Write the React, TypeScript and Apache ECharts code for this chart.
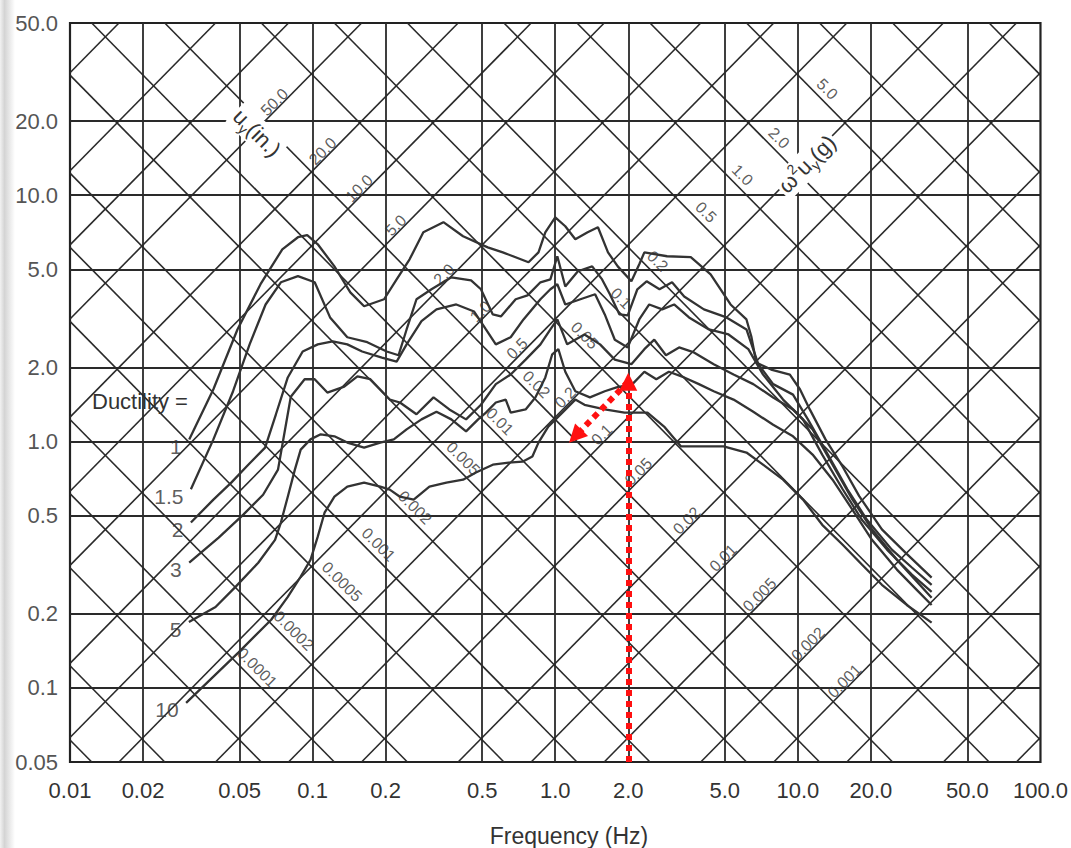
import React, { useEffect, useRef } from "react";
import * as echarts from "echarts";

// ---------- axes ----------
const X_MIN = 0.01;
const X_MAX = 100;
const Y_MIN = 0.05;
const Y_MAX = 50;
const X_TICKS = [0.01, 0.02, 0.05, 0.1, 0.2, 0.5, 1, 2, 5, 10, 20, 50, 100];
const X_TICK_LABELS = ["0.01", "0.02", "0.05", "0.1", "0.2", "0.5", "1.0", "2.0", "5.0", "10.0", "20.0", "50.0", "100.0"];
const Y_TICKS = [0.05, 0.1, 0.2, 0.5, 1, 2, 5, 10, 20, 50];
const Y_TICK_LABELS = ["0.05", "0.1", "0.2", "0.5", "1.0", "2.0", "5.0", "10.0", "20.0", "50.0"];

// ---------- tripartite diagonals ----------
const U_LINES = [0.0001, 0.0002, 0.0005, 0.001, 0.002, 0.005, 0.01, 0.02, 0.05, 0.1, 0.2, 0.5, 1, 2, 5, 10, 20, 50, 100, 200, 500];
const A_LINES = [0.00001, 0.00002, 0.00005, 0.0001, 0.0002, 0.0005, 0.001, 0.002, 0.005, 0.01, 0.02, 0.05, 0.1, 0.2, 0.5, 1, 2, 5, 10, 20, 50];
const U_LABEL_VALUES = [50, 20, 10, 5, 2, 1, 0.5, 0.2, 0.1, 0.05, 0.02, 0.01, 0.005, 0.002, 0.001];
const U_LABELS = ["50.0", "20.0", "10.0", "5.0", "2.0", "1.0", "0.5", "0.2", "0.1", "0.05", "0.02", "0.01", "0.005", "0.002", "0.001"];
const A_LABEL_VALUES = [5, 2, 1, 0.5, 0.2, 0.1, 0.05, 0.02, 0.01, 0.005, 0.002, 0.001, 0.0005, 0.0002, 0.0001];
const A_LABELS = ["5.0", "2.0", "1.0", "0.5", "0.2", "0.1", "0.05", "0.02", "0.01", "0.005", "0.002", "0.001", "0.0005", "0.0002", "0.0001"];
const G_IN = 386.1;

// ---------- ductility spectra (frequency Hz, pseudo-velocity) ----------
const DUCTILITY = ["1", "1.5", "2", "3", "5", "10"];

const MU1_F = [0.031, 0.039, 0.049, 0.061, 0.075, 0.087, 0.095, 0.105, 0.123, 0.143, 0.163, 0.197, 0.222, 0.251, 0.286, 0.346, 0.417, 0.527, 0.608, 0.776, 0.853, 0.91, 1.0, 1.1, 1.21, 1.36, 1.5, 1.65, 1.81, 2.06, 2.22, 2.33, 2.89, 3.62, 4.37, 5.28, 6.14, 6.43, 6.74, 7.76, 9.27, 10.2, 11.2, 13.0, 15.3, 17.9, 22.2, 28.1, 35.6];
const MU1_V = [1.02, 1.63, 2.85, 4.35, 6.03, 6.75, 6.88, 6.32, 5.14, 4.03, 3.54, 3.78, 4.55, 5.49, 7.07, 7.77, 6.81, 6.14, 5.86, 5.34, 5.86, 7.07, 8.13, 7.48, 6.62, 7.07, 7.41, 5.86, 5.14, 4.47, 5.24, 5.86, 5.65, 5.6, 4.77, 3.6, 3.13, 2.67, 2.09, 1.96, 1.87, 1.63, 1.35, 1.02, 0.79, 0.6, 0.44, 0.35, 0.28];

const MU15_F = [0.0315, 0.039, 0.047, 0.055, 0.064, 0.074, 0.087, 0.102, 0.118, 0.139, 0.168, 0.202, 0.226, 0.244, 0.268, 0.309, 0.373, 0.45, 0.494, 0.553, 0.597, 0.687, 0.769, 0.869, 0.955, 1.02, 1.1, 1.24, 1.42, 1.56, 1.68, 1.84, 1.99, 2.18, 2.38, 2.69, 3.03, 3.4, 4.1, 5.08, 6.14, 6.87, 7.91, 9.55, 11.0, 13.3, 16.0, 19.3, 24.4, 29.5, 35.6];
const MU15_V = [0.64, 1.02, 1.6, 2.48, 3.6, 4.43, 4.69, 4.43, 3.19, 2.65, 2.53, 2.32, 2.24, 2.85, 3.78, 4.15, 4.64, 4.51, 4.15, 3.28, 3.22, 3.78, 3.92, 4.43, 4.55, 5.65, 4.26, 4.91, 5.14, 4.55, 3.96, 3.28, 3.25, 4.15, 4.47, 4.15, 4.43, 3.88, 3.44, 3.19, 2.85, 2.06, 1.71, 1.55, 1.23, 0.885, 0.64, 0.48, 0.364, 0.308, 0.262];

const MU2_F = [0.0315, 0.039, 0.0462, 0.0543, 0.0637, 0.0706, 0.079, 0.091, 0.105, 0.121, 0.139, 0.16, 0.193, 0.222, 0.244, 0.281, 0.324, 0.391, 0.463, 0.518, 0.569, 0.655, 0.74, 0.869, 0.955, 1.02, 1.1, 1.27, 1.46, 1.6, 1.76, 1.99, 2.22, 2.44, 2.76, 3.09, 3.56, 4.3, 5.18, 6.25, 7.19, 8.69, 10.5, 12.6, 15.3, 18.4, 23.3, 29.5, 35.6];
const MU2_V = [0.469, 0.581, 0.681, 0.805, 0.944, 1.29, 1.82, 2.32, 2.48, 2.55, 2.48, 2.32, 2.19, 2.11, 2.48, 3.08, 3.44, 3.6, 3.37, 2.85, 2.48, 2.65, 3.13, 3.78, 4.15, 4.35, 3.6, 3.78, 3.96, 3.28, 2.59, 2.41, 3.13, 3.6, 3.44, 3.6, 3.19, 2.85, 2.72, 2.37, 1.87, 1.48, 1.23, 0.885, 0.64, 0.48, 0.364, 0.288, 0.245];

const MU3_F = [0.031, 0.041, 0.0518, 0.0625, 0.072, 0.0813, 0.0927, 0.102, 0.115, 0.135, 0.153, 0.173, 0.208, 0.229, 0.268, 0.315, 0.366, 0.429, 0.494, 0.569, 0.655, 0.755, 0.869, 0.955, 1.02, 1.12, 1.32, 1.53, 1.76, 2.06, 2.33, 2.56, 2.86, 3.24, 3.73, 4.5, 5.43, 6.55, 7.91, 9.55, 11.5, 13.9, 16.8, 20.2, 25.6, 30.9, 35.6];
const MU3_V = [0.322, 0.407, 0.505, 0.608, 0.769, 1.52, 1.79, 1.79, 1.58, 1.67, 1.84, 1.79, 1.48, 1.44, 1.29, 1.51, 1.35, 1.23, 1.41, 1.71, 1.87, 2.15, 2.48, 2.85, 3.13, 2.48, 2.72, 2.48, 2.15, 2.06, 2.37, 2.59, 2.24, 2.41, 2.3, 2.06, 1.87, 1.71, 1.51, 1.35, 1.12, 0.805, 0.581, 0.44, 0.331, 0.27, 0.232];

const MU5_F = [0.0309, 0.0398, 0.0481, 0.0597, 0.07, 0.074, 0.079, 0.0845, 0.0893, 0.098, 0.108, 0.123, 0.139, 0.163, 0.19, 0.216, 0.244, 0.281, 0.324, 0.373, 0.429, 0.481, 0.518, 0.569, 0.625, 0.655, 0.755, 0.828, 0.91, 0.972, 1.03, 1.1, 1.21, 1.39, 1.6, 1.79, 2.08, 2.33, 2.61, 2.94, 3.4, 3.91, 4.5, 5.43, 6.55, 7.91, 9.55, 11.5, 13.9, 16.8, 20.2, 25.6, 30.9, 35.6];
const MU5_V = [0.185, 0.213, 0.257, 0.322, 0.399, 0.469, 0.597, 0.769, 0.927, 1.02, 1.07, 1.05, 0.99, 0.944, 0.99, 1.02, 1.12, 1.23, 1.32, 1.23, 1.1, 1.23, 1.31, 1.44, 1.48, 1.31, 1.35, 1.51, 1.82, 2.26, 2.37, 1.92, 1.6, 1.51, 1.6, 1.66, 1.71, 1.92, 1.79, 1.92, 1.82, 1.71, 1.6, 1.48, 1.32, 1.17, 1.05, 0.885, 0.7, 0.528, 0.399, 0.302, 0.25, 0.217];

const MU10_F = [0.0301, 0.0494, 0.0675, 0.079, 0.0893, 0.098, 0.105, 0.112, 0.123, 0.139, 0.163, 0.19, 0.208, 0.229, 0.261, 0.303, 0.356, 0.417, 0.471, 0.553, 0.643, 0.733, 0.805, 0.853, 0.936, 1.07, 1.21, 1.32, 1.6, 1.93, 2.4, 2.81, 3.3, 3.84, 4.94, 6.14, 7.0, 8.69, 10.5, 12.6, 15.3, 18.4, 22.2, 28.1, 35.6];
const MU10_V = [0.0869, 0.139, 0.189, 0.234, 0.283, 0.331, 0.411, 0.514, 0.597, 0.656, 0.681, 0.656, 0.638, 0.597, 0.581, 0.656, 0.681, 0.7, 0.748, 0.805, 0.821, 0.828, 0.869, 0.99, 1.15, 1.31, 1.48, 1.41, 1.35, 1.31, 1.31, 1.15, 0.955, 0.955, 0.955, 0.902, 0.821, 0.7, 0.581, 0.459, 0.381, 0.316, 0.262, 0.217, 0.184];

// ---------- red annotation (design point) ----------
const ARROW_F = [2.0, 2.0, 1.21];
const ARROW_V = [0.05, 1.75, 1.05];

const CURVES = [
  [MU1_F, MU1_V],
  [MU15_F, MU15_V],
  [MU2_F, MU2_V],
  [MU3_F, MU3_V],
  [MU5_F, MU5_V],
  [MU10_F, MU10_V],
];

const FONT = "'Liberation Sans', Arial, Helvetica, sans-serif";
const INK = "#2a2a2a";
const LOG_2PI = Math.log10(2 * Math.PI);
const LOG_ACC = Math.log10(G_IN / (2 * Math.PI));

function tickLabel(value: number, ticks: number[], labels: string[]) {
  for (let i = 0; i < ticks.length; i++) {
    if (Math.abs(Math.log10(value / ticks[i])) < 0.002) return labels[i];
  }
  return "";
}

function uSegment(u: number) {
  const k = 2 * Math.PI * u;
  const f0 = Math.max(X_MIN, Y_MIN / k);
  const f1 = Math.min(X_MAX, Y_MAX / k);
  if (f0 >= f1) return null;
  return { coords: [[f0, k * f0], [f1, k * f1]] };
}

function aSegment(a: number) {
  const c = (G_IN * a) / (2 * Math.PI);
  const f0 = Math.max(X_MIN, c / Y_MAX);
  const f1 = Math.min(X_MAX, c / Y_MIN);
  if (f0 >= f1) return null;
  return { coords: [[f0, c / f0], [f1, c / f1]] };
}

function buildOption(): any {
  const gridLines: any[] = [];
  X_TICKS.slice(1, -1).forEach((f) => gridLines.push({ coords: [[f, Y_MIN], [f, Y_MAX]] }));
  Y_TICKS.slice(1, -1).forEach((v) => gridLines.push({ coords: [[X_MIN, v], [X_MAX, v]] }));

  const diagU = U_LINES.map(uSegment).filter(Boolean);
  const diagA = A_LINES.map(aSegment).filter(Boolean);

  const uLabelData = U_LABEL_VALUES.map((u, i) => {
    const D = Math.log10(u) + LOG_2PI + 0.038;
    const S = 0.22;
    return { value: [Math.pow(10, (S - D) / 2), Math.pow(10, (S + D) / 2)], name: U_LABELS[i] };
  });
  const aLabelData = A_LABEL_VALUES.map((a, i) => {
    const S = Math.log10(a) + LOG_ACC + 0.065;
    const D = 0.31;
    return { value: [Math.pow(10, (S - D) / 2), Math.pow(10, (S + D) / 2)], name: A_LABELS[i] };
  });

  const curveSeries = CURVES.map(([F, V], idx) => ({
    type: "line",
    name: "μ = " + DUCTILITY[idx],
    data: F.map((f, i) => [f, V[i]]),
    showSymbol: false,
    symbol: "none",
    smooth: false,
    lineStyle: { color: "#333333", width: 2.3 },
    z: 5,
    silent: true,
  }));

  const ductLabelData = CURVES.map(([F, V], idx) => ({ value: [F[0], V[0]], name: DUCTILITY[idx] }));

  return {
    animation: false,
    backgroundColor: "#ffffff",
    grid: {
      left: 70,
      right: 18,
      top: 23,
      bottom: 86,
      show: true,
      borderColor: "#222222",
      borderWidth: 2.2,
      backgroundColor: "transparent",
    },
    xAxis: {
      type: "log",
      logBase: 10,
      min: X_MIN,
      max: X_MAX,
      axisLine: { show: false },
      axisTick: { show: false },
      splitLine: { show: false },
      minorSplitLine: { show: false },
      axisLabel: {
        customValues: X_TICKS,
        formatter: (v: number) => tickLabel(v, X_TICKS, X_TICK_LABELS),
        margin: 17,
        fontSize: 22,
        color: "#333",
        fontFamily: FONT,
        showMinLabel: true,
        showMaxLabel: true,
        hideOverlap: false,
      },
    },
    yAxis: {
      type: "log",
      logBase: 10,
      min: Y_MIN,
      max: Y_MAX,
      axisLine: { show: false },
      axisTick: { show: false },
      splitLine: { show: false },
      minorSplitLine: { show: false },
      axisLabel: {
        customValues: Y_TICKS,
        formatter: (v: number) => tickLabel(v, Y_TICKS, Y_TICK_LABELS),
        margin: 12,
        fontSize: 22,
        color: "#555",
        fontFamily: FONT,
        showMinLabel: true,
        showMaxLabel: true,
        hideOverlap: false,
      },
    },
    graphic: [
      {
        type: "rect",
        z: -100,
        silent: true,
        shape: { x: 0, y: 0, width: 15, height: 848 },
        style: {
          fill: new echarts.graphic.LinearGradient(0, 0, 1, 0, [
            { offset: 0, color: "#f2f2f2" },
            { offset: 0.3, color: "#d4d4d4" },
            { offset: 1, color: "#ffffff" },
          ]),
        },
      },
      {
        type: "text",
        x: 92,
        y: 401,
        z: 50,
        style: { text: "Ductility =", font: `22px ${FONT}`, fill: "#333", align: "left", verticalAlign: "middle" },
      },
      {
        type: "text",
        x: 569,
        y: 836,
        z: 50,
        style: { text: "Frequency (Hz)", font: `23px ${FONT}`, fill: "#333", align: "center", verticalAlign: "middle" },
      },
      {
        type: "text",
        x: 257,
        y: 133,
        rotation: -Math.PI / 4,
        z: 50,
        style: {
          text: "{m|u}{s|y}{m|(in.)}",
          align: "center",
          verticalAlign: "middle",
          fill: "#333",
          backgroundColor: "#ffffff",
          padding: [0, 2],
          rich: {
            m: { fontSize: 22, lineHeight: 28, verticalAlign: "middle", fontFamily: FONT, fill: "#333" },
            s: { fontSize: 14, lineHeight: 14, verticalAlign: "bottom", fontFamily: FONT, fill: "#333" },
          },
        },
      },
      {
        type: "text",
        x: 807,
        y: 164,
        rotation: Math.PI / 4,
        z: 50,
        style: {
          text: "{m|ω}{t|2}{m|u}{s|y}{m|(g)}",
          align: "center",
          verticalAlign: "middle",
          fill: "#333",
          backgroundColor: "#ffffff",
          padding: [0, 2],
          rich: {
            m: { fontSize: 22, lineHeight: 28, verticalAlign: "middle", fontFamily: FONT, fill: "#333" },
            s: { fontSize: 14, lineHeight: 14, verticalAlign: "bottom", fontFamily: FONT, fill: "#333" },
            t: { fontSize: 14, lineHeight: 14, verticalAlign: "top", fontFamily: FONT, fill: "#333" },
          },
        },
      },
    ],
    series: [
      {
        type: "lines",
        name: "grid",
        coordinateSystem: "cartesian2d",
        polyline: false,
        silent: true,
        z: 1,
        lineStyle: { color: INK, width: 1.8, opacity: 1, curveness: 0 },
        data: gridLines,
      },
      {
        type: "lines",
        name: "displacement lines",
        coordinateSystem: "cartesian2d",
        polyline: false,
        silent: true,
        z: 1,
        lineStyle: { color: INK, width: 1.6, opacity: 1, curveness: 0 },
        data: diagU,
      },
      {
        type: "lines",
        name: "acceleration lines",
        coordinateSystem: "cartesian2d",
        polyline: false,
        silent: true,
        z: 1,
        lineStyle: { color: INK, width: 1.6, opacity: 1, curveness: 0 },
        data: diagA,
      },
      ...curveSeries,
      {
        type: "scatter",
        name: "u labels",
        data: uLabelData,
        symbolSize: 1,
        itemStyle: { color: "rgba(0,0,0,0)" },
        silent: true,
        z: 6,
        label: {
          show: true,
          position: "inside",
          rotate: 45,
          formatter: (p: any) => p.name,
          fontSize: 16,
          color: "#333",
          fontFamily: FONT,
        },
      },
      {
        type: "scatter",
        name: "acc labels",
        data: aLabelData,
        symbolSize: 1,
        itemStyle: { color: "rgba(0,0,0,0)" },
        silent: true,
        z: 6,
        label: {
          show: true,
          position: "inside",
          rotate: -45,
          formatter: (p: any) => p.name,
          fontSize: 16,
          color: "#333",
          fontFamily: FONT,
        },
      },
      {
        type: "scatter",
        name: "ductility labels",
        data: ductLabelData,
        symbolSize: 1,
        itemStyle: { color: "rgba(0,0,0,0)" },
        silent: true,
        z: 6,
        label: {
          show: true,
          position: "left",
          distance: 7,
          offset: [0, 7],
          formatter: (p: any) => p.name,
          fontSize: 21,
          color: "#333",
          fontFamily: FONT,
        },
      },
      {
        type: "lines",
        name: "design arrows",
        coordinateSystem: "cartesian2d",
        polyline: false,
        silent: true,
        z: 20,
        symbol: ["none", "triangle"],
        symbolSize: 18,
        lineStyle: { color: "#ff1010", width: 6, opacity: 1, type: [6, 5], curveness: 0 },
        data: [
          { coords: [[ARROW_F[0], ARROW_V[0]], [ARROW_F[1], ARROW_V[1]]] },
          { coords: [[ARROW_F[1], ARROW_V[1]], [ARROW_F[2], ARROW_V[2]]] },
        ],
      },
    ],
  };
}

export default function App() {
  const ref = useRef<HTMLDivElement>(null);
  useEffect(() => {
    if (!ref.current) return;
    const chart = echarts.init(ref.current, null, { renderer: "svg" });
    chart.setOption(buildOption());
    return () => chart.dispose();
  }, []);
  return (
    <div
      ref={ref}
      style={{ position: "fixed", left: 0, top: 0, width: 1071, height: 848, background: "#ffffff" }}
    />
  );
}
